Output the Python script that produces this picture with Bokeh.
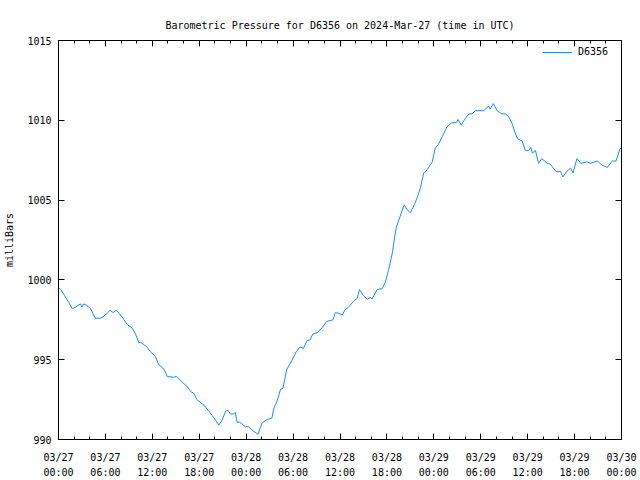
from bokeh.plotting import figure
from bokeh.models import FixedTicker, LinearAxis, Range1d, Legend, LegendItem
from bokeh.embed import file_html
from bokeh.resources import INLINE

hours = [0.0, 0.3, 0.8, 1.3, 1.75, 2.2, 2.8, 3.0, 3.2, 3.6, 4.1, 4.7, 5.4, 6.0, 6.6, 7.0, 7.4,
         8.1, 8.8, 9.4, 9.85, 10.3, 10.5, 11.3, 11.75, 12.4, 12.8, 13.5, 13.9, 14.7, 15.1, 15.8,
         16.5, 16.9, 17.3, 17.7, 18.2, 18.6, 19.2, 19.65, 20.1, 20.5, 20.9, 21.4, 21.7, 22.0,
         22.4, 22.6, 22.85, 23.1, 23.4, 23.9, 24.3, 25.0, 25.5, 26.05, 26.7, 27.3, 27.5, 27.95,
         28.4, 28.7, 29.2, 29.9, 30.4, 30.9, 31.3, 31.8, 32.2, 32.5, 33.1, 33.7, 34.3, 35.1,
         35.4, 35.9, 36.3, 36.6, 37.1, 37.8, 38.2, 38.5, 39.0, 39.5, 39.9, 40.1, 40.75, 41.4,
         41.8, 42.2, 42.7, 43.0, 43.2, 43.7, 44.2, 44.6, 45.0, 45.5, 45.9, 46.3, 46.7, 47.0,
         47.4, 47.8, 48.2, 48.6, 49.1, 49.7, 50.3, 50.85, 51.1, 51.5, 52.0, 52.5, 52.9, 53.3,
         54.4, 55.0, 55.2, 55.6, 56.1, 56.7, 57.2, 57.6, 58.0, 58.4, 58.7, 59.3, 59.7, 60.1,
         60.4, 60.6, 61.0, 61.4, 61.8, 62.5, 62.9, 63.6, 64.2, 64.5, 65.0, 65.5, 65.8, 66.3,
         66.8, 67.6, 68.0, 68.9, 69.5, 70.2, 70.8, 71.3, 71.8, 72.0]
pressure = [999.5, 999.4, 999.0, 998.6, 998.2, 998.3, 998.5, 998.3, 998.5, 998.4, 998.2, 997.6,
            997.6, 997.8, 998.1, 997.95, 998.1, 997.7, 997.2, 997.0, 996.6, 996.05, 996.1, 995.8,
            995.5, 995.2, 994.7, 994.4, 993.95, 993.9, 993.95, 993.6, 993.3, 993.0, 992.9, 992.5,
            992.3, 992.15, 991.8, 991.5, 991.2, 990.9, 991.2, 991.8, 991.8, 991.6, 991.6, 991.7,
            991.05, 991.1, 991.0, 990.8, 990.8, 990.5, 990.33, 991.05, 991.25, 991.35, 991.9,
            992.4, 993.15, 993.2, 994.4, 995.0, 995.5, 995.8, 995.7, 996.2, 996.25, 996.6, 996.7,
            997.0, 997.4, 997.5, 997.95, 997.9, 997.8, 998.1, 998.3, 998.7, 998.85, 999.4, 999.0,
            998.8, 998.9, 998.8, 999.4, 999.45, 999.85, 1000.6, 1001.7, 1002.7, 1003.3, 1004.0,
            1004.7, 1004.4, 1004.2, 1004.7, 1005.2, 1005.8, 1006.7, 1006.8, 1007.1, 1007.4,
            1008.3, 1008.5, 1009.0, 1009.6, 1009.85, 1009.85, 1010.05, 1009.7, 1010.1, 1010.4,
            1010.4, 1010.6, 1010.6, 1010.9, 1010.7, 1011.05, 1010.6, 1010.4, 1010.4, 1010.2,
            1009.8, 1009.2, 1008.85, 1008.7, 1008.1, 1008.1, 1008.3, 1007.95, 1008.1, 1007.3,
            1007.6, 1007.3, 1007.25, 1006.8, 1006.8, 1006.45, 1006.8, 1007.0, 1006.7, 1007.6,
            1007.3, 1007.4, 1007.3, 1007.45, 1007.2, 1007.05, 1007.45, 1007.45, 1008.2, 1008.3]

x_tick_hours = [0, 6, 12, 18, 24, 30, 36, 42, 48, 54, 60, 66, 72]
x_tick_labels = ["03/27\n00:00", "03/27\n06:00", "03/27\n12:00", "03/27\n18:00",
                 "03/28\n00:00", "03/28\n06:00", "03/28\n12:00", "03/28\n18:00",
                 "03/29\n00:00", "03/29\n06:00", "03/29\n12:00", "03/29\n18:00",
                 "03/30\n00:00"]
x_minor_hours = list(range(0, 73, 2))
y_ticks = [990, 995, 1000, 1005, 1010, 1015]

title_text = "Barometric Pressure for D6356 on 2024-Mar-27 (time in UTC)"
series_name = "D6356"
y_label = "milliBars"

FONT = "DejaVu Sans Mono"
FS = "10px"

p = figure(width=640, height=480, output_backend="svg", toolbar_location=None,
           x_range=Range1d(0, 72), y_range=Range1d(990, 1015),
           min_border_left=58, min_border_right=19, min_border_top=40, min_border_bottom=40)
p.background_fill_color = "white"
p.border_fill_color = "white"
p.outline_line_color = "black"
p.outline_line_width = 1
p.grid.visible = False

p.title.text = title_text
p.title.align = "center"
p.title.text_font = FONT
p.title.text_font_size = FS
p.title.text_font_style = "normal"
p.title.text_color = "black"
p.title.standoff = 20

xticker = FixedTicker(ticks=x_tick_hours, minor_ticks=x_minor_hours)
yticker = FixedTicker(ticks=y_ticks, minor_ticks=[])

def style_axis(ax, labels=True):
    ax.axis_line_color = "black"
    ax.major_tick_line_color = "black"
    ax.minor_tick_line_color = "black"
    ax.major_tick_in = 6
    ax.major_tick_out = 0
    ax.minor_tick_in = 3
    ax.minor_tick_out = 0
    ax.major_label_text_font = FONT
    ax.major_label_text_font_size = FS
    ax.major_label_text_color = "black"
    if not labels:
        ax.major_label_text_font_size = "0px"
        ax.major_label_text_color = None

xa = p.xaxis[0]
xa.ticker = xticker
xa.major_label_overrides = {h: l for h, l in zip(x_tick_hours, x_tick_labels)}
xa.major_label_standoff = 12
xa.major_label_text_line_height = 1.4
style_axis(xa)

ya = p.yaxis[0]
ya.ticker = yticker
ya.major_label_standoff = 7
ya.axis_label = y_label
ya.axis_label_text_font = FONT
ya.axis_label_text_font_size = FS
ya.axis_label_text_font_style = "normal"
ya.axis_label_text_color = "black"
ya.axis_label_standoff = 9
style_axis(ya)

top = LinearAxis(ticker=FixedTicker(ticks=x_tick_hours, minor_ticks=x_minor_hours))
style_axis(top, labels=False)
p.add_layout(top, "above")
right = LinearAxis(ticker=FixedTicker(ticks=y_ticks, minor_ticks=[]))
style_axis(right, labels=False)
p.add_layout(right, "right")

r = p.line(hours, pressure, line_color="#1a8cff", line_width=1)

legend = Legend(items=[LegendItem(label=series_name, renderers=[r])], location=(484, 382),
                orientation="vertical")
legend.border_line_color = None
legend.background_fill_alpha = 0
legend.label_text_font = FONT
legend.label_text_font_size = FS
legend.label_text_color = "black"
legend.glyph_width = 30
legend.glyph_height = 10
legend.margin = 0
legend.padding = 2
legend.label_standoff = 6
p.add_layout(legend)

open("out.html", "w").write(file_html(p, INLINE))
